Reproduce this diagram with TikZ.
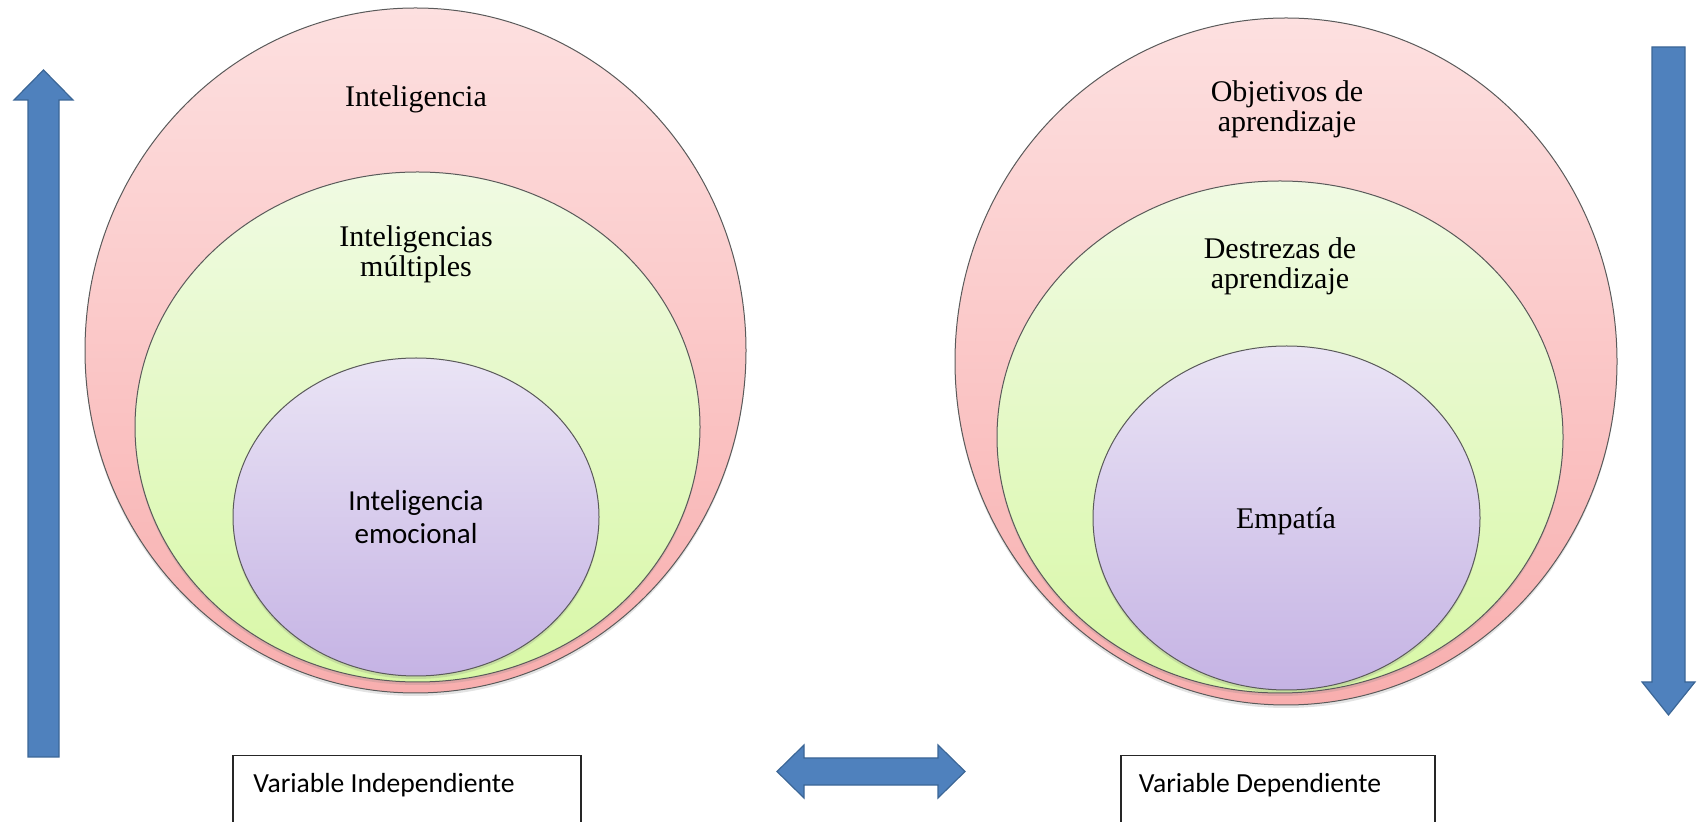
\documentclass[tikz,border=0pt]{standalone}
\usepackage{fontspec}
\setmainfont{Liberation Serif}
\newfontfamily\calibri{Carlito}
\usetikzlibrary{shapes.geometric,shadows}
\definecolor{pinkT}{HTML}{FDE0E0}
\definecolor{pinkB}{HTML}{F8AEAE}
\definecolor{greenT}{HTML}{F0FAE3}
\definecolor{greenB}{HTML}{D8F8A6}
\definecolor{purpT}{HTML}{EAE4F5}
\definecolor{purpB}{HTML}{C5B3E4}
\definecolor{arrowblue}{HTML}{4F81BD}
\definecolor{arrowedge}{HTML}{3B6696}
\definecolor{ringedge}{HTML}{5A5A5A}
\begin{document}
\begin{tikzpicture}[x=0.5pt,y=-0.5pt,
  ring/.style={ellipse, draw=ringedge, line width=0.5pt, inner sep=0pt,
    drop shadow={opacity=0.22, shadow xshift=0pt, shadow yshift=-1.5pt}},
  outerring/.style={ring, top color=pinkT, bottom color=pinkB},
  midring/.style={ring, top color=greenT, bottom color=greenB},
  innerring/.style={ring, top color=purpT, bottom color=purpB},
  serif/.style={font=\fontsize{15}{15}\selectfont, align=center, inner sep=0pt, anchor=base},
  sans/.style={font=\calibri\fontsize{14.5}{16.5}\selectfont, align=center, inner sep=0pt, anchor=base},
  varbox/.style={draw=black!85, line width=0.75pt, fill=white, anchor=north west,
    minimum height=45pt, inner sep=0pt},
  boxtext/.style={font=\calibri\fontsize{13.8}{15}\selectfont, anchor=base west, inner sep=0pt},
  blockarrow/.style={fill=arrowblue, draw=arrowedge, line width=0.6pt, line join=miter}
]
\useasboundingbox (0,0) rectangle (1697,822);
\clip (0,0) rectangle (1697,822);

% left group
\node[outerring, minimum width=330.5pt, minimum height=342.5pt] (lo) at (415.5,350.5) {};
\node[midring, minimum width=282.5pt, minimum height=255pt] (lm) at (417.5,427) {};
\node[innerring, minimum width=183pt, minimum height=159pt] (li) at (416,517) {};
\node[serif] (lot) at (416,107) {Inteligencia};
\node[serif] (lmt) at (416,277) {Inteligencias\\múltiples};
\node[sans] (lit) at (416,544) {Inteligencia\\emocional};

% right group
\node[outerring, minimum width=331pt, minimum height=343.5pt] (ro) at (1286,361.5) {};
\node[midring, minimum width=283pt, minimum height=256pt] (rm) at (1280,437) {};
\node[innerring, minimum width=193.5pt, minimum height=172pt] (ri) at (1286.5,518) {};
\node[serif] (rot) at (1287,132) {Objetivos de\\aprendizaje};
\node[serif] (rmt) at (1280,288.5) {Destrezas de\\aprendizaje};
\node[serif] (rit) at (1286,529) {Empatía};

% arrows
\draw[blockarrow] (28,757) -- (28,100) -- (14,100) -- (43.5,70) -- (73,100) -- (59,100) -- (59,757) -- cycle;
\draw[blockarrow] (1652,47) -- (1685,47) -- (1685,682) -- (1695,682) -- (1668.5,715) -- (1642,682) -- (1652,682) -- cycle;
\draw[blockarrow] (777,771.5) -- (804,745) -- (804,758) -- (938,758) -- (938,745) -- (965,771.5)
  -- (938,798) -- (938,785) -- (804,785) -- (804,798) -- cycle;

% variable boxes
\node[varbox, minimum width=174pt] (vi) at (232,755) {};
\node[boxtext] (vit) at (253,792) {Variable Independiente};
\node[varbox, minimum width=157pt] (vd) at (1120,755) {};
\node[boxtext] (vdt) at (1138.5,792) {Variable Dependiente};
\end{tikzpicture}
\end{document}
